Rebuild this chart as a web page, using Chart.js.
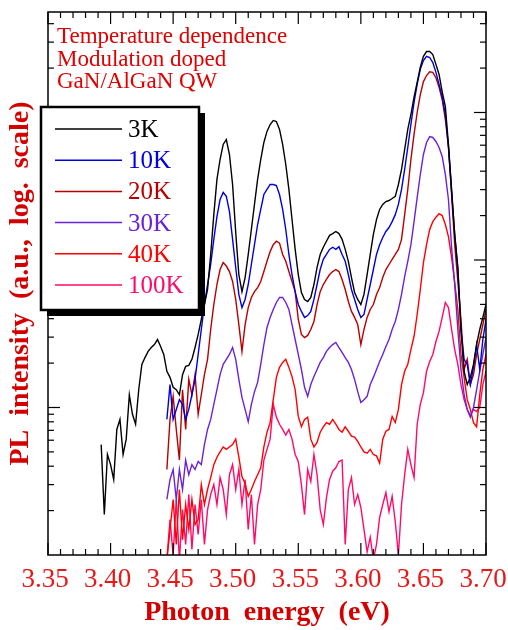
<!DOCTYPE html>
<html><head><meta charset="utf-8">
<script src="https://cdn.jsdelivr.net/npm/chart.js@4/dist/chart.umd.min.js"></script>
<style>html,body{margin:0;padding:0;background:#fff}#wrap{width:508px;height:630px;position:relative}</style>
</head><body><div id="wrap"><canvas id="c" width="508" height="630"></canvas></div>
<script>
// Photon energy grid (eV)
const energies = [
3.3900,3.3925,3.3950,3.3975,3.4000,3.4025,3.4050,3.4075,3.4100,3.4125,
3.4150,3.4175,3.4200,3.4225,3.4250,3.4275,3.4300,3.4325,3.4350,3.4375,
3.4400,3.4425,3.4450,3.4475,3.4500,3.4525,3.4550,3.4575,3.4600,3.4625,
3.4650,3.4675,3.4700,3.4725,3.4750,3.4775,3.4800,3.4825,3.4850,3.4875,
3.4900,3.4925,3.4950,3.4975,3.5000,3.5025,3.5050,3.5075,3.5100,3.5125,
3.5150,3.5175,3.5200,3.5225,3.5250,3.5275,3.5300,3.5325,3.5350,3.5375,
3.5400,3.5425,3.5450,3.5475,3.5500,3.5525,3.5550,3.5575,3.5600,3.5625,
3.5650,3.5675,3.5700,3.5725,3.5750,3.5775,3.5800,3.5825,3.5850,3.5875,
3.5900,3.5925,3.5950,3.5975,3.6000,3.6025,3.6050,3.6075,3.6100,3.6125,
3.6150,3.6175,3.6200,3.6225,3.6250,3.6275,3.6300,3.6325,3.6350,3.6375,
3.6400,3.6425,3.6450,3.6475,3.6500,3.6525,3.6550,3.6575,3.6600,3.6625,
3.6650,3.6675,3.6700,3.6725,3.6750,3.6775,3.6800,3.6825,3.6850,3.6875,
3.6900,3.6925,3.6950,3.6975,3.7000];

const seriesLabels = ['3K','10K','20K','30K','40K','100K'];

// PL intensity (a.u.), log scale
const pl3K = [
null,0.56,0.188,0.48,0.41,0.325,0.71,0.83,0.48,0.61,
1.22,0.90,0.77,1.32,1.96,2.18,2.40,2.55,2.67,2.89,
2.59,2.29,1.76,1.60,1.37,1.32,1.22,1.67,1.90,1.93,
2.12,2.55,3.13,3.95,4.99,6.31,10.9,20.3,35.2,48.0,
60.7,65.6,51.9,32.5,15.4,7.97,6.1,7.6,10.9,16.1,
23.8,35.2,48.0,62.6,74.4,82.9,88.3,86.9,76.7,60.7,
44.4,30.1,18.8,11.8,7.97,6.02,5.40,5.23,5.57,6.82,
8.9,10.9,12.2,13.4,14.7,15.1,15.6,15.1,13.8,11.8,
9.8,7.6,6.02,5.40,4.99,5.84,7.97,10.9,14.9,18.8,
22.0,23.8,24.9,25.3,26.1,27.0,32.5,41.1,56.1,76.7,
96.9,127,160,203,240,259,259,247,212,181,
138,110,60.7,30.1,14.9,8.9,3.38,1.76,1.43,1.60,
1.96,2.67,3.38,4.08,4.99];

const pl10K = [
null,null,null,null,null,null,null,null,null,null,
null,null,null,null,null,null,null,null,null,null,
null,null,0.83,1.43,0.83,0.97,1.13,1.05,0.83,0.97,
1.22,1.55,2.29,3.38,4.99,6.82,9.32,13.8,19.7,25.7,
28.7,27.0,21.3,13.8,8.9,5.84,4.76,5.40,6.82,9.32,
12.7,17.4,22.0,27.8,30.1,32.5,32.5,32.0,27.8,22.0,
16.1,10.9,7.97,6.1,4.99,4.48,4.08,4.2,4.48,5.40,
6.82,8.62,10.1,10.9,11.8,12.2,11.8,12.3,10.9,9.8,
7.97,6.31,5.40,4.62,4.08,4.27,5.40,6.82,8.62,10.9,
12.7,14.2,15.6,16.6,18.2,20.3,23.8,30.1,41.1,57.9,
82.9,117,155,196,225,240,236,218,187,155,
127,96.9,57.9,29.1,14.9,8.62,3.38,2.12,1.96,1.43,
1.87,2.67,1.81,2.89,3.95];

const pl20K = [
null,null,null,null,null,null,null,null,null,null,
null,null,null,null,null,null,null,null,null,null,
null,null,0.38,0.83,1.19,0.71,0.44,1.32,0.71,1.55,
1.22,1.67,0.90,1.22,1.67,2.12,3.38,4.99,6.82,8.62,
9.6,9.1,8.35,7.15,5.40,3.65,2.40,3.65,4.76,5.57,
6.1,6.5,7.15,8.35,9.8,11.4,12.7,13.4,13.0,10.9,
9.8,8.35,7.15,6.1,3.95,3.13,2.98,3.08,3.38,3.83,
4.99,6.1,6.82,7.38,7.97,8.35,8.62,8.35,7.38,6.31,
5.23,4.48,4.08,3.65,2.67,3.38,4.08,4.62,4.99,5.84,
6.5,7.6,8.62,9.32,10.1,10.9,11.8,13.8,20.3,30.1,
48.0,71.0,100,132,162,178,189,187,172,148,
122,89.7,58.8,27.8,12.7,7.15,3.95,1.81,2.12,1.43,
1.67,2.29,2.89,3.65,4.62];

const pl30K = [
null,null,null,null,null,null,null,null,null,null,
null,null,null,null,null,null,null,null,null,null,
null,null,0.238,0.325,0.38,0.238,0.38,0.278,0.44,0.35,
0.41,0.38,0.43,0.41,0.56,0.71,0.83,1.05,1.32,1.67,
1.96,2.12,2.29,2.55,2.12,1.55,1.17,0.97,0.80,1.05,
1.28,1.48,1.96,2.67,3.49,4.08,4.62,5.15,5.57,5.57,
5.15,4.62,3.65,2.89,2.29,1.81,1.37,1.19,1.43,1.62,
1.81,2.02,2.18,2.40,2.55,2.67,2.76,2.55,2.36,2.18,
2.02,1.81,1.55,1.28,1.08,1.13,1.19,1.43,1.60,1.81,
2.05,2.29,2.59,2.89,3.38,3.83,4.62,5.84,7.7,9.8,
12.7,18.2,26.5,38.0,51.9,62.6,68.6,67.7,63.6,57.9,
50.3,38.0,25.7,12.2,6.82,3.38,1.81,1.22,0.97,0.86,
1.0,1.32,1.76,2.29,2.98];

const pl40K = [
null,null,null,null,null,null,null,null,null,null,
null,null,null,null,null,null,null,null,null,null,
null,null,0.093,0.149,0.238,0.118,0.278,0.127,0.22,0.149,
0.238,0.161,0.174,0.30,0.22,0.278,0.335,0.41,0.46,0.50,
0.54,0.52,0.54,0.56,0.61,0.46,0.34,0.305,0.25,0.278,
0.315,0.35,0.39,0.54,0.68,0.79,1.13,1.60,1.87,2.02,
2.12,1.87,1.62,1.32,0.87,0.74,0.83,0.86,0.61,0.54,
0.58,0.68,0.74,0.79,0.77,0.83,0.77,0.71,0.68,0.74,
0.69,0.64,0.63,0.59,0.54,0.50,0.49,0.52,0.48,0.47,
0.42,0.61,0.69,0.71,0.87,0.79,0.97,1.43,1.76,1.96,
2.47,3.03,4.27,6.31,9.6,12.7,16.1,18.2,19.5,20.6,
20.0,17.4,14.4,10.4,7.04,4.62,2.29,1.60,1.13,0.97,
0.79,0.74,1.22,1.81,2.29];

const pl100K = [
null,null,null,null,null,null,null,null,null,null,
null,null,null,null,null,null,null,null,null,null,
null,null,0.093,0.174,0.10,0.238,0.093,0.203,0.118,0.257,
0.109,0.22,0.138,0.238,0.118,0.203,0.257,0.30,0.22,0.335,
0.278,0.188,0.35,0.41,0.278,0.38,0.22,0.325,0.149,0.257,
0.118,0.22,0.278,0.44,0.52,0.61,1.05,0.86,0.77,0.71,
0.65,0.71,0.61,0.48,0.43,0.30,0.188,0.38,0.315,0.48,
0.35,0.203,0.161,0.245,0.325,0.37,0.39,0.43,0.44,0.118,
0.278,0.335,0.22,0.257,0.21,0.149,0.105,0.132,0.093,0.118,
0.18,0.22,0.265,0.197,0.25,0.168,0.10,0.22,0.35,0.52,
0.41,0.335,0.77,1.05,1.26,1.76,2.05,2.29,2.80,3.28,
4.08,5.15,4.76,3.38,2.47,1.96,1.43,1.13,0.97,0.88,
0.97,0.94,1.0,1.43,1.76];

const annotationLines = ['Temperature dependence','Modulation doped','GaN/AlGaN QW'];
const xTitle = 'Photon  energy  (eV)';
const yTitle = 'PL  intensity  (a.u.,  log.  scale)';

const seriesValues = [pl3K, pl10K, pl20K, pl30K, pl40K, pl100K];
const seriesColors = ['#000000','#0000dd','#b80000','#6a22d8','#ff0000','#ff0a6a'];

const datasets = seriesLabels.map((lab, k) => ({
  label: lab,
  data: energies.map((e, i) => ({x: e, y: seriesValues[k][i]})),
  borderColor: seriesColors[k],
  backgroundColor: seriesColors[k],
  borderWidth: 1.4,
  pointRadius: 0,
  fill: false,
  tension: 0,
  spanGaps: false
}));

const SERIF = '"Liberation Serif", "Times New Roman", serif';

const decor = {
  id: 'decor',
  afterDraw(chart) {
    const {ctx, chartArea: a, scales: {x, y}} = chart;
    ctx.save();
    const line = (x1, y1, x2, y2) => { ctx.beginPath(); ctx.moveTo(x1, y1); ctx.lineTo(x2, y2); ctx.stroke(); };
    ctx.strokeStyle = '#000';
    ctx.lineWidth = 1.5;
    ctx.strokeRect(a.left, a.top, a.right - a.left, a.bottom - a.top);
    ctx.lineWidth = 1.2;
    for (let k = 0; k <= 35; k++) {
      const v = 3.35 + k * 0.01;
      const px = x.getPixelForValue(v);
      const len = (k % 5 === 0) ? 12 : 6;
      line(px, a.bottom, px, a.bottom - len);
      line(px, a.top, px, a.top + len);
    }
    for (let d = -1; d <= 2; d++) {
      for (let m = 1; m <= 9; m++) {
        const v = m * Math.pow(10, d);
        if (v <= y.min * 1.0001 || v > y.max) continue;
        const py = y.getPixelForValue(v);
        const len = m === 1 ? 12 : 6;
        line(a.left, py, a.left + len, py);
        line(a.right, py, a.right - len, py);
      }
    }
    // annotation
    ctx.fillStyle = '#e00000';
    ctx.font = '23px ' + SERIF;
    ctx.textBaseline = 'alphabetic';
    ctx.textAlign = 'left';
    annotationLines.forEach((t, i) => ctx.fillText(t, 57, 43 + i * 22.5));
    // legend box with shadow
    const bx = 41, by = 107, bw = 158, bh = 203;
    ctx.fillStyle = '#000';
    ctx.fillRect(bx + 6, by + 6, bw, bh);
    ctx.fillStyle = '#fff';
    ctx.fillRect(bx, by, bw, bh);
    ctx.lineWidth = 2.5;
    ctx.strokeStyle = '#000';
    ctx.strokeRect(bx, by, bw, bh);
    ctx.font = '25px ' + SERIF;
    chart.data.datasets.forEach((ds, k) => {
      const ry = 129 + k * 31.2;
      ctx.strokeStyle = ds.borderColor;
      ctx.lineWidth = 1.5;
      line(55, ry, 122, ry);
      ctx.fillStyle = ds.borderColor;
      ctx.fillText(ds.label, 128, ry + 8);
    });
    ctx.restore();
  }
};

new Chart(document.getElementById('c'), {
  type: 'line',
  data: {datasets},
  options: {
    responsive: false,
    animation: false,
    devicePixelRatio: 1,
    layout: {padding: {top: 12, right: 22, left: 0, bottom: 0}},
    plugins: {legend: {display: false}, tooltip: {enabled: false}},
    scales: {
      x: {
        type: 'linear', min: 3.35, max: 3.70,
        ticks: {stepSize: 0.05, autoSkip: false, maxRotation: 0, padding: 9, labelOffset: -3,
          color: '#e81818', font: {family: SERIF, size: 27},
          callback: v => Number(v).toFixed(2)},
        grid: {display: false, drawTicks: false},
        border: {display: false},
        title: {display: true, text: xTitle, color: '#d40000',
          font: {family: SERIF, size: 28, weight: 'bold'}, padding: {top: 0, bottom: 0}},
        afterFit(s) { s.height = 75; s.paddingLeft = 0; s.paddingRight = 0; }
      },
      y: {
        type: 'logarithmic', min: 0.1, max: 480,
        ticks: {display: false},
        grid: {display: false, drawTicks: false},
        border: {display: false},
        title: {display: true, text: yTitle, color: '#d40000',
          font: {family: SERIF, size: 28, weight: 'bold'}, padding: {top: 4, bottom: 0}},
        afterFit(s) { s.width = 48; s.paddingTop = 0; s.paddingBottom = 0; }
      }
    }
  },
  plugins: [decor]
});
</script>
</body></html>
